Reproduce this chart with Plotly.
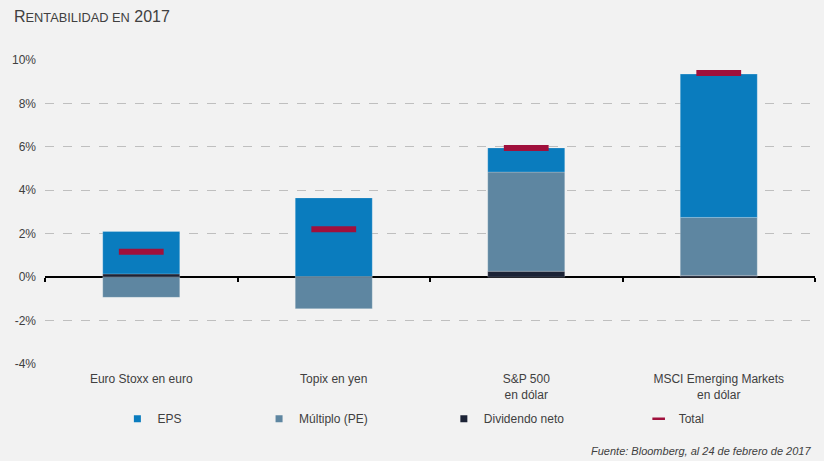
import plotly.graph_objects as go

categories = ["Euro Stoxx en euro", "Topix en yen", "S&P 500<br>en dólar", "MSCI Emerging Markets<br>en dólar"]
dividendo = [0.15, 0.03, 0.27, 0.08]
multiplo = [-0.93, -1.45, 4.57, 2.67]
eps = [1.95, 3.62, 1.11, 6.60]
total = [1.17, 2.20, 5.95, 9.40]
y_ticks = [-4, -2, 0, 2, 4, 6, 8, 10]
y_ticklabels = [f"{v}%" for v in y_ticks]
legend_names = ["EPS", "Múltiplo (PE)", "Dividendo neto", "Total"]

C_EPS = "#0A7CBE"
C_MULT = "#5E86A1"
C_DIV = "#1C2336"
C_TOT = "#A0103C"

fig = go.Figure()
bar_line = dict(color="rgba(255,255,255,0.35)", width=0.6)
fig.add_bar(x=categories, y=dividendo, marker=dict(color=C_DIV, line=bar_line), width=0.4, showlegend=False)
fig.add_bar(x=categories, y=multiplo, marker=dict(color=C_MULT, line=bar_line), width=0.4, showlegend=False)
fig.add_bar(x=categories, y=eps, marker=dict(color=C_EPS, line=bar_line), width=0.4, showlegend=False)
fig.add_scatter(x=categories, y=total, mode="markers", showlegend=False, xaxis="x2",
                marker=dict(symbol="line-ew", size=32, line=dict(color=C_TOT, width=6)))

# legend entries, one legend box each
legend_ids = ["legend", "legend2", "legend3", "legend4"]
for name, col, lid in zip(legend_names[:3], [C_EPS, C_MULT, C_DIV], legend_ids[:3]):
    fig.add_scatter(x=[None], y=[None], mode="markers", name=name, legend=lid,
                    marker=dict(symbol="square", size=7, color=col))
fig.add_scatter(x=[None], y=[None], mode="markers", name=legend_names[3], legend=legend_ids[3],
                marker=dict(symbol="line-ew", size=9, line=dict(color=C_TOT, width=2.5)))

leg_common = dict(orientation="h", xanchor="left", y=-0.18, yanchor="middle", itemwidth=30,
                  font=dict(size=12, color="#404040"), bgcolor="rgba(0,0,0,0)")
leg_x = [0.094, 0.278, 0.518, 0.771]

fig.update_layout(
    width=824, height=461,
    barmode="relative", bargap=0.6,
    paper_bgcolor="#F2F2F2", plot_bgcolor="#F2F2F2",
    margin=dict(l=45, r=9, t=60, b=97),
    font=dict(family="Liberation Sans, Arial, sans-serif", size=12, color="#404040"),
    title=dict(text="R<span style='font-size:12.8px'>ENTABILIDAD EN</span> 2017",
               x=0.017, xanchor="left", y=0.965, yanchor="middle",
               font=dict(size=16, color="#404040")),
    legend=dict(x=leg_x[0], **leg_common),
    legend2=dict(x=leg_x[1], **leg_common),
    legend3=dict(x=leg_x[2], **leg_common),
    legend4=dict(x=leg_x[3], **leg_common),
    annotations=[dict(text="<i>Fuente: Bloomberg, al 24 de febrero de 2017</i>",
                      xref="paper", yref="paper", x=0.997, xanchor="right",
                      y=-0.285, yanchor="middle", showarrow=False,
                      font=dict(size=11, color="#404040"))],
    xaxis2=dict(overlaying="x", matches="x", anchor="free", position=4 / 14,
                ticks="outside", tickson="boundaries", ticklen=4, tickwidth=1.5,
                tickcolor="#000000", showticklabels=False, showgrid=False,
                showline=False, zeroline=False),
)
fig.update_yaxes(range=[-4, 10], tickvals=y_ticks, ticktext=y_ticklabels,
                 showgrid=True, gridcolor="#BFBFBF", griddash="dash", gridwidth=1,
                 zeroline=True, zerolinecolor="#000000", zerolinewidth=1.5,
                 ticks="", ticklabelstandoff=8, tickfont=dict(size=12, color="#404040"))
fig.update_layout(xaxis=dict(showgrid=False, showline=False, ticks="", ticklabelstandoff=6,
                             tickfont=dict(size=12, color="#404040")))

fig.write_html("out.html", config={"displayModeBar": False},
               post_script="document.body.style.margin='0';")
